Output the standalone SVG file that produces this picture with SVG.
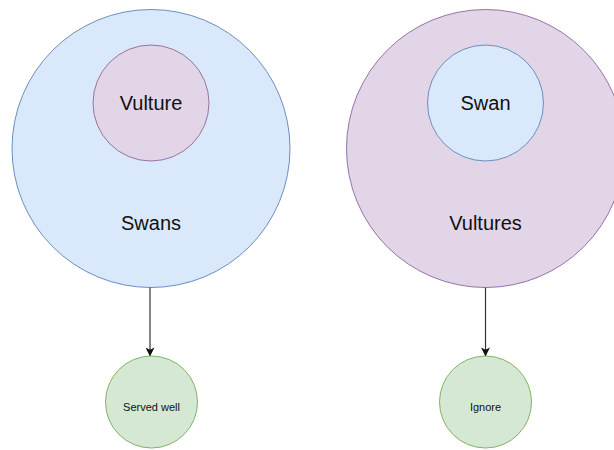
<svg xmlns="http://www.w3.org/2000/svg" width="614" height="450" viewBox="0 0 614 450">
  <defs>
    <marker id="arrow" viewBox="0 0 10 10" refX="9" refY="5" markerWidth="9" markerHeight="9" markerUnits="userSpaceOnUse" orient="auto">
      <path d="M0,0 L10,5 L0,10 L2.5,5 Z" fill="#111"/>
    </marker>
    <style>
      .blue { fill: #dae8fc; stroke: #6c8ebf; stroke-width: 1; }
      .purple { fill: #e1d5e7; stroke: #9673a6; stroke-width: 1; }
      .green { fill: #d5e8d4; stroke: #82b366; stroke-width: 1; }
      .big { font-family: "Liberation Sans", Arial, sans-serif; font-size: 20px; fill: #111; text-anchor: middle; }
      .small { font-family: "Liberation Sans", Arial, sans-serif; font-size: 11px; fill: #111; text-anchor: middle; }
      .edge { stroke: #333; stroke-width: 1.2; fill: none; }
    </style>
  </defs>
  <rect width="614" height="450" fill="#fff"/>

  <g id="swans">
    <circle class="blue" cx="151" cy="148.5" r="139"/>
    <text class="big" x="151" y="230">Swans</text>
  </g>
  <g id="vulture">
    <circle class="purple" cx="151" cy="103" r="58"/>
    <text class="big" x="151" y="110">Vulture</text>
  </g>

  <g id="vultures">
    <circle class="purple" cx="485.5" cy="148.5" r="139"/>
    <text class="big" x="485.5" y="230">Vultures</text>
  </g>
  <g id="swan">
    <circle class="blue" cx="485.5" cy="103" r="58"/>
    <text class="big" x="485.5" y="110">Swan</text>
  </g>

  <g id="served-well">
    <circle class="green" cx="151.5" cy="402" r="46"/>
    <text class="small" x="151.5" y="411">Served well</text>
  </g>
  <g id="ignore">
    <circle class="green" cx="485.5" cy="402" r="46"/>
    <text class="small" x="485.5" y="411">Ignore</text>
  </g>

  <g id="connectors">
    <line class="edge" x1="150" y1="287.5" x2="150" y2="355.5" marker-end="url(#arrow)"/>
    <line class="edge" x1="485.5" y1="287.5" x2="485.5" y2="355.5" marker-end="url(#arrow)"/>
  </g>
</svg>
